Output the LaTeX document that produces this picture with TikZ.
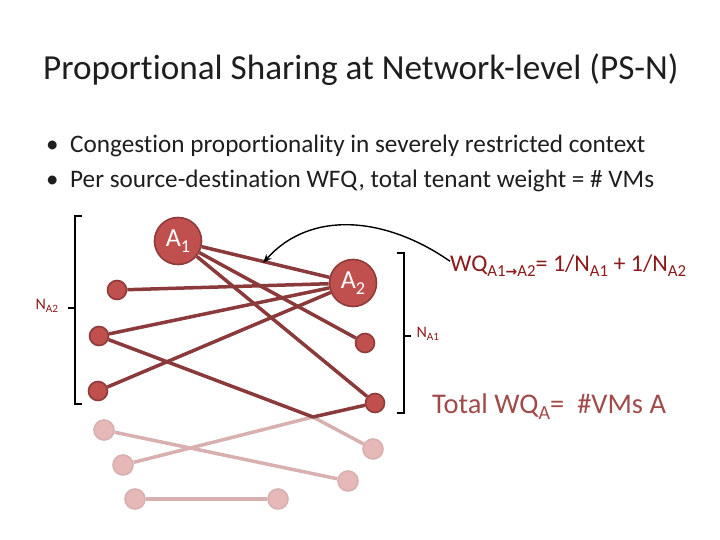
\documentclass[tikz,border=0pt]{standalone}
\usepackage{fontspec}
\setmainfont{Carlito}[Ligatures=NoCommon]
\newfontfamily\arrowfont{DejaVu Sans}
\usetikzlibrary{backgrounds,arrows.meta}

\definecolor{vmfill}{HTML}{C0504D}
\definecolor{vmline}{HTML}{8E3B3A}
\definecolor{linkcol}{HTML}{8A3A3A}
\definecolor{fadefill}{HTML}{E6B9B8}
\definecolor{fadeline}{HTML}{D8B0B0}
\definecolor{labelred}{HTML}{8B1A1A}
\definecolor{totalred}{HTML}{A04A4A}
\definecolor{inktext}{HTML}{1E1E1E}

\newcommand{\lowsub}[1]{\raisebox{-0.45ex}{\fontsize{0.7em}{1em}\selectfont #1}}

\begin{document}
\begin{tikzpicture}[
    x=1pt, y=-1pt,
    bigvm/.style={circle, fill=vmfill, draw=vmline, line width=1.6pt,
        minimum size=47pt, inner sep=0pt, text=white,
        font=\fontsize{26}{26}\selectfont},
    smallvm/.style={circle, fill=vmfill, draw=vmline, line width=1.6pt,
        minimum size=19pt, inner sep=0pt},
    fadevm/.style={circle, fill=fadefill, draw=fadeline, line width=1.6pt,
        minimum size=20pt, inner sep=0pt},
    link/.style={draw=linkcol, line width=3.5pt, line join=round},
    fadelink/.style={draw=fadeline, line width=3.5pt, line join=round},
    bracket/.style={draw=black, line width=2.2pt},
]
\useasboundingbox (0,0) rectangle (720,540);

% === Title and bullets ===
\node[anchor=base west, inner sep=0pt, text=inktext, font=\fontsize{35.2}{36}\selectfont]
    (title) at (43,80) {Proportional Sharing at Network-level (PS-N)};
\node[anchor=base west, inner sep=0pt, text=inktext, font=\fontsize{25}{25}\selectfont]
    (dot1) at (46,153) {\textbullet};
\node[anchor=base west, inner sep=0pt, text=inktext, font=\fontsize{25.2}{25}\selectfont]
    (item1) at (70,153) {Congestion proportionality in severely restricted context};
\node[anchor=base west, inner sep=0pt, text=inktext, font=\fontsize{25}{25}\selectfont]
    (dot2) at (46,188) {\textbullet};
\node[anchor=base west, inner sep=0pt, text=inktext, font=\fontsize{25.2}{25}\selectfont]
    (item2) at (70,188) {Per source-destination WFQ, total tenant weight = \# VMs};

% === VMs of tenant A ===
\node[bigvm] (a1) at (178,241) {A\lowsub{1}};
\node[bigvm] (a2) at (353,283) {A\lowsub{2}};
\node[smallvm] (l1) at (117,290) {};
\node[smallvm] (l2) at (99,336) {};
\node[smallvm] (l3) at (98,391) {};
\node[smallvm] (r1) at (365,343) {};
\node[smallvm] (r2) at (375,403) {};
\coordinate (hop) at (313,417);

% === other (faded) VMs ===
\node[fadevm] (f1) at (104,430) {};
\node[fadevm] (f2) at (123,465) {};
\node[fadevm] (f3) at (135,499) {};
\node[fadevm] (f4) at (278,499) {};
\node[fadevm] (f5) at (348,481) {};
\node[fadevm] (f6) at (373,449) {};

\begin{scope}[on background layer]
    % faded flows
    \draw[fadelink] (f1) -- (f5);
    \draw[fadelink] (f2) -- (hop) -- (f6);
    \draw[fadelink] (f3) -- (f4);
    % flows of A
    \draw[link] (a1) -- (a2);
    \draw[link] (a1) -- (r1);
    \draw[link] (a1) -- (r2);
    \draw[link] (l1) -- (a2);
    \draw[link] (l2) -- (a2);
    \draw[link] (l3) -- (a2);
    \draw[link] (l2) -- (hop) -- (r2);
\end{scope}

% === Brackets ===
\draw[bracket] (82,216) -- (75,216) -- (75,404) -- (82,404);
\draw[bracket] (68,308) -- (75,308);
\draw[bracket] (397,253) -- (404,253) -- (404,413) -- (397,413);
\draw[bracket] (404,336) -- (411,336);
\node[anchor=west, text=labelred, font=\fontsize{16}{16}\selectfont]
    (na2) at (32,306) {N\lowsub{A2}};
\node[anchor=west, text=labelred, font=\fontsize{16}{16}\selectfont]
    (na1) at (413,334) {N\lowsub{A1}};

% === Weights ===
\node[anchor=base west, inner sep=0pt, text=labelred, font=\fontsize{24}{24}\selectfont]
    (wq) at (450,271) {WQ\lowsub{A1{\arrowfont\bfseries\fontsize{14}{14}\selectfont →}A2}= 1/N\lowsub{A1} + 1/N\lowsub{A2}};
\node[anchor=base west, inner sep=0pt, text=totalred, font=\fontsize{28.5}{28}\selectfont]
    (total) at (432,413) {Total WQ\lowsub{A}=\ \ \#VMs A};
\coordinate (tip) at (263,263);
\draw[line width=1.4pt, -{Stealth[length=9pt]}]
    ([yshift=4pt]wq.west) .. controls (385,216) and (310,210) .. (tip);

\end{tikzpicture}
\end{document}
